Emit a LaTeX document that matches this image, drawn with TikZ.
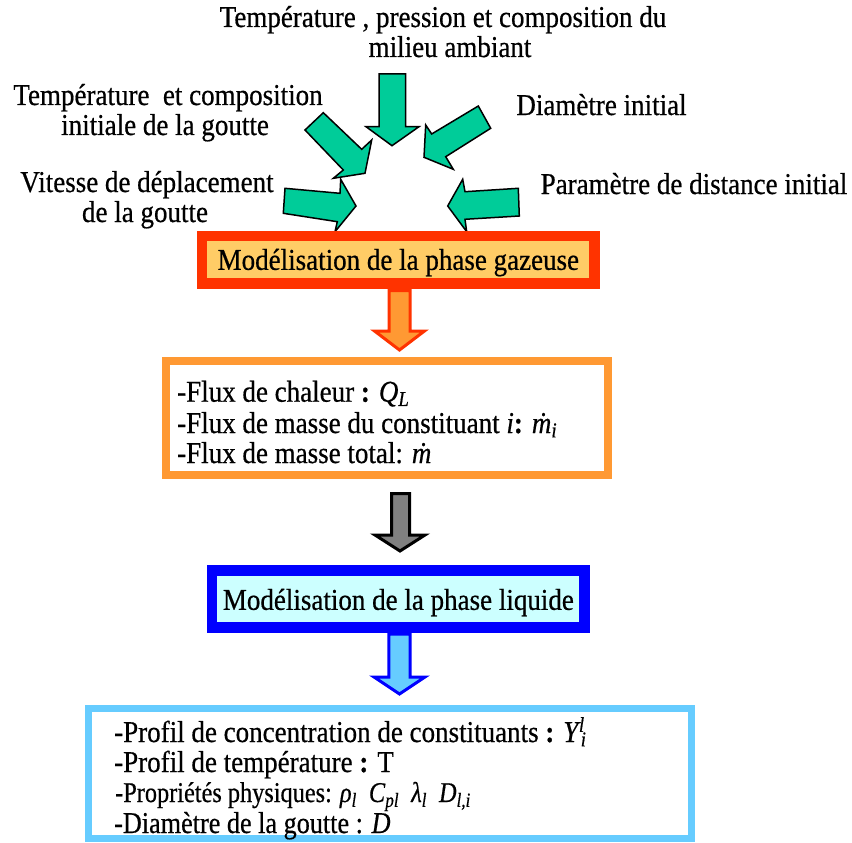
\documentclass[tikz,border=0pt]{standalone}
\usepackage{fontspec}
\setmainfont{Liberation Serif}
\definecolor{grn}{HTML}{00CC99}
\definecolor{redb}{HTML}{FF3300}
\definecolor{yelf}{HTML}{FFCC66}
\definecolor{orng}{HTML}{FF9933}
\definecolor{blu}{HTML}{0000FF}
\definecolor{cyanf}{HTML}{CCFFFF}
\definecolor{lblu}{HTML}{66CCFF}
\definecolor{gry}{HTML}{808080}
\newcommand\lblfont{\fontsize{27}{30}\selectfont\addfontfeature{FakeBold=0.6}}
\newcommand\vst[1]{\scalebox{1}[1.12]{#1}}
\newcommand\vi[1]{\textit{#1}}
\newcommand\vsub[2]{\textit{#1}\textsubscript{\textit{#2}}}
\tikzset{
  lbl/.style={anchor=base, inner sep=0pt, font=\lblfont},
  lline/.style={anchor=base west, inner sep=0pt, font=\lblfont},
  greenarrow/.style={fill=grn, draw=black, line width=1.5pt, line join=miter},
  blockarrow/.style={line width=3pt, line join=miter},
  titlebox/.style={inner sep=0pt, line width=10.5pt, font=\lblfont, text height=20pt, text depth=0pt}
}
\begin{document}
\begin{tikzpicture}[x=1pt,y=-1pt]
\useasboundingbox (0,0) rectangle (852,843);

% top labels
\node[lbl] (t1a) at (443,27) {\vst{Température , pression et composition du}};
\node[lbl] (t1b) at (450,57) {\vst{milieu ambiant}};
\node[lbl] (t2a) at (168,105) {\vst{Température\ \ et composition}};
\node[lbl] (t2b) at (165,135) {\vst{initiale de la goutte}};
\node[lbl] (t3) at (601.5,115) {\vst{Diamètre initial}};
\node[lbl] (t4a) at (147,192) {\vst{Vitesse de déplacement}};
\node[lbl] (t4b) at (145,222) {\vst{de la goutte}};
\node[lbl] (t5) at (694,194) {\vst{Paramètre de distance initial}};

% green arrows
\draw[greenarrow] (379,74) -- (405.7,74) -- (405.7,126.7) -- (419,126.7) -- (392,145.7) -- (366,126.7) -- (379,126.7) -- cycle;
\draw[greenarrow] (305,130) -- (343.3,170) -- (333.3,178.3) -- (365,173.3) -- (371.7,140) -- (361.7,149.3) -- (323.3,112.7) -- cycle;
\draw[greenarrow] (478.3,106) -- (431.7,134) -- (425.7,125) -- (424,157.3) -- (453.3,169.3) -- (445.7,156.7) -- (490.7,128.3) -- cycle;
\draw[greenarrow] (285,188.3) -- (340,193.3) -- (340.7,179.3) -- (356,206) -- (335,231.7) -- (337.3,221.7) -- (283.3,213.3) -- cycle;
\draw[greenarrow] (518.3,188.3) -- (465,191.7) -- (462.7,179.3) -- (447.7,206) -- (466.7,231.7) -- (465,219.3) -- (519.3,216) -- cycle;

% box 1
\node[titlebox, draw=redb, fill=yelf, minimum width=392.7pt, minimum height=47.7pt] (gas) at (398.35,259.85) {\vst{Modélisation de la phase gazeuse}};

% orange arrow
\draw[blockarrow, draw=redb, fill=orng] (389,290.5) -- (410,290.5) -- (410,331) -- (424.5,331) -- (399.5,350) -- (374.5,331) -- (389,331) -- cycle;

% box 2
\node[draw=orng, line width=8pt, inner sep=0pt, minimum width=442.3pt, minimum height=114.3pt] (flux) at (386.85,417.85) {};
\node[lline] (f1) at (177,401.7) {\vst{-Flux de chaleur \textbf{:} \vsub{Q}{L}}};
\node[lline] (f2) at (177,433) {\vst{-Flux de masse du constituant \vi{i}\textbf{:} \vsub{\.m}{i}}};
\node[lline] (f3) at (177,463) {\vst{-Flux de masse total: \vi{\.m}}};

% gray arrow
\draw[blockarrow, draw=black, fill=gry] (391.5,493.5) -- (409.5,493.5) -- (409.5,535) -- (425,535) -- (400,551) -- (375,535) -- (391.5,535) -- cycle;

% box 3
\node[titlebox, draw=blu, fill=cyanf, minimum width=372.7pt, minimum height=57.1pt, text height=22pt] (liq) at (398.35,598.85) {\vst{Modélisation de la phase liquide}};

% blue arrow
\draw[blockarrow, draw=blu, fill=lblu] (388.8,634) -- (410.2,634) -- (410.2,677) -- (425,677) -- (399.5,694) -- (374,677) -- (388.8,677) -- cycle;

% box 4
\node[draw=lblu, line width=7pt, inner sep=0pt, minimum width=603pt, minimum height=130pt] (res) at (390,773.5) {};
\node[lline] (r1) at (114,742) {\vst{-Profil de concentration de constituants \textbf{:} \vi{Y}\textsubscript{\textit{i}}\hspace{-0.28em}\textsuperscript{\textit{l}}}};
\node[lline] (r2) at (114,772) {\vst{-Profil de température \textbf{:} T}};
\node[lline] (r3) at (115,802) {\scalebox{0.9}[1.06]{-Propriétés physiques: \vsub{ρ}{l}\ \ \vsub{C}{pl}\ \ \vsub{λ}{l}\ \ \vsub{D}{l,i}}};
\node[lline] (r4) at (114,833) {\scalebox{0.97}[1.12]{-Diamètre de la goutte : \vi{D}}};
\end{tikzpicture}
\end{document}
